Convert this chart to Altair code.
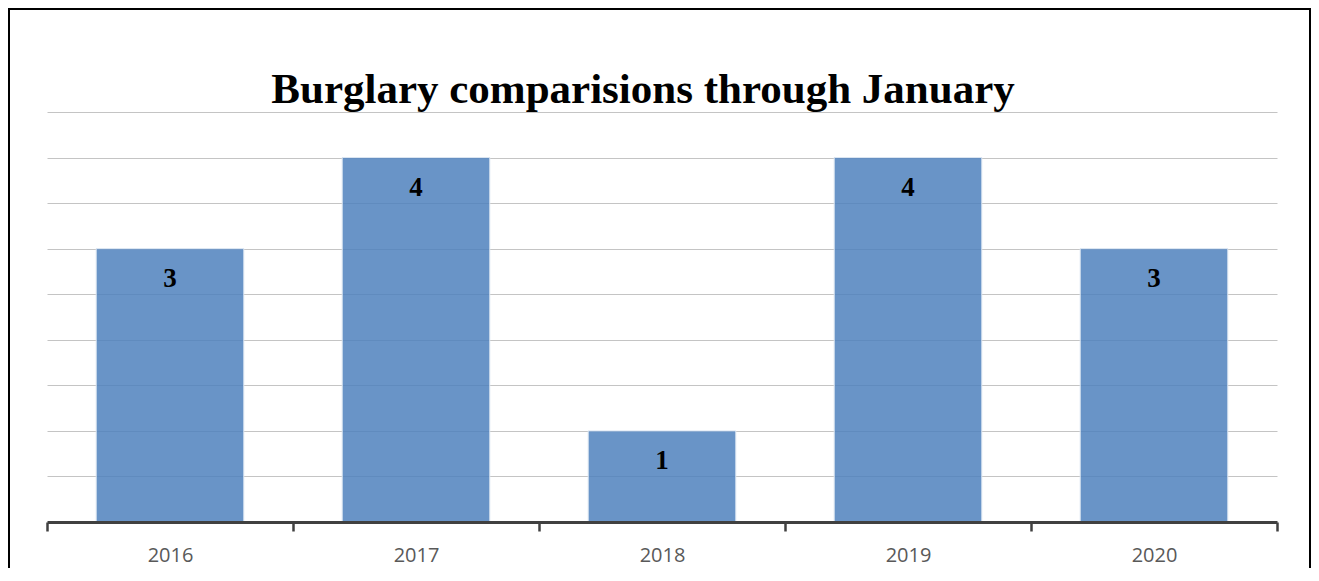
import altair as alt
import pandas as pd

years = ["2016", "2017", "2018", "2019", "2020"]
burglaries = [3, 4, 1, 4, 3]
grid_values = [0.5, 1, 1.5, 2, 2.5, 3, 3.5, 4, 4.5]

df = pd.DataFrame({"year": years, "count": burglaries})

W, H = 1230, 410

x_enc = alt.X(
    "year:N",
    sort=years,
    scale=alt.Scale(paddingInner=0, paddingOuter=0),
    axis=alt.Axis(
        title=None,
        labelAngle=0,
        labelFont="Open Sans",
        labelFontSize=20,
        labelColor="#595959",
        labelPadding=14,
        domainColor="#404040",
        domainWidth=3,
        tickColor="#404040",
        tickWidth=2.5,
        tickSize=9,
        tickBand="extent",
        grid=False,
        zindex=1,
    ),
)
y_enc = alt.Y(
    "count:Q",
    scale=alt.Scale(domain=[0, 4.5], nice=False),
    axis=alt.Axis(
        title=None,
        labels=False,
        ticks=False,
        domain=False,
        grid=True,
        values=grid_values,
        gridColor="#c4c4c4",
        gridWidth=1,
    ),
)

base = alt.Chart(df)

bars = base.mark_bar(
    color="#4F81BD",
    fillOpacity=0.85,
    stroke="#dce6f2",
    strokeWidth=1,
    width=alt.RelativeBandSize(0.6),
).encode(x=x_enc, y=y_enc)

labels = base.mark_text(
    font="Liberation Serif",
    fontWeight="bold",
    fontSize=27,
    color="black",
    baseline="alphabetic",
    dy=38,
).encode(x=alt.X("year:N", sort=years), y=alt.Y("count:Q"), text="count:Q")

frame = base.mark_rect(
    fill=None, filled=False, stroke="black", strokeWidth=2, clip=False
).encode(
    x=alt.value(-38), x2=alt.value(1263), y=alt.value(-103), y2=alt.value(520)
).transform_filter("datum.year == '2016'")

chart = (
    alt.layer(bars, labels, frame)
    .properties(
        width=W,
        height=H,
        background="white",
        title=alt.TitleParams(
            "Burglary comparisions through January",
            font="Liberation Serif",
            fontSize=43,
            fontWeight="bold",
            color="black",
            anchor="middle",
            dx=-19,
            offset=-104,
        ),
        autosize=alt.AutoSizeParams(type="none"),
        padding={"left": 39, "top": 104, "right": 34, "bottom": 46},
    )
    .configure_view(stroke="transparent", strokeWidth=0)
)

chart.save("out.html", embed_options={"renderer": "svg", "actions": False})
